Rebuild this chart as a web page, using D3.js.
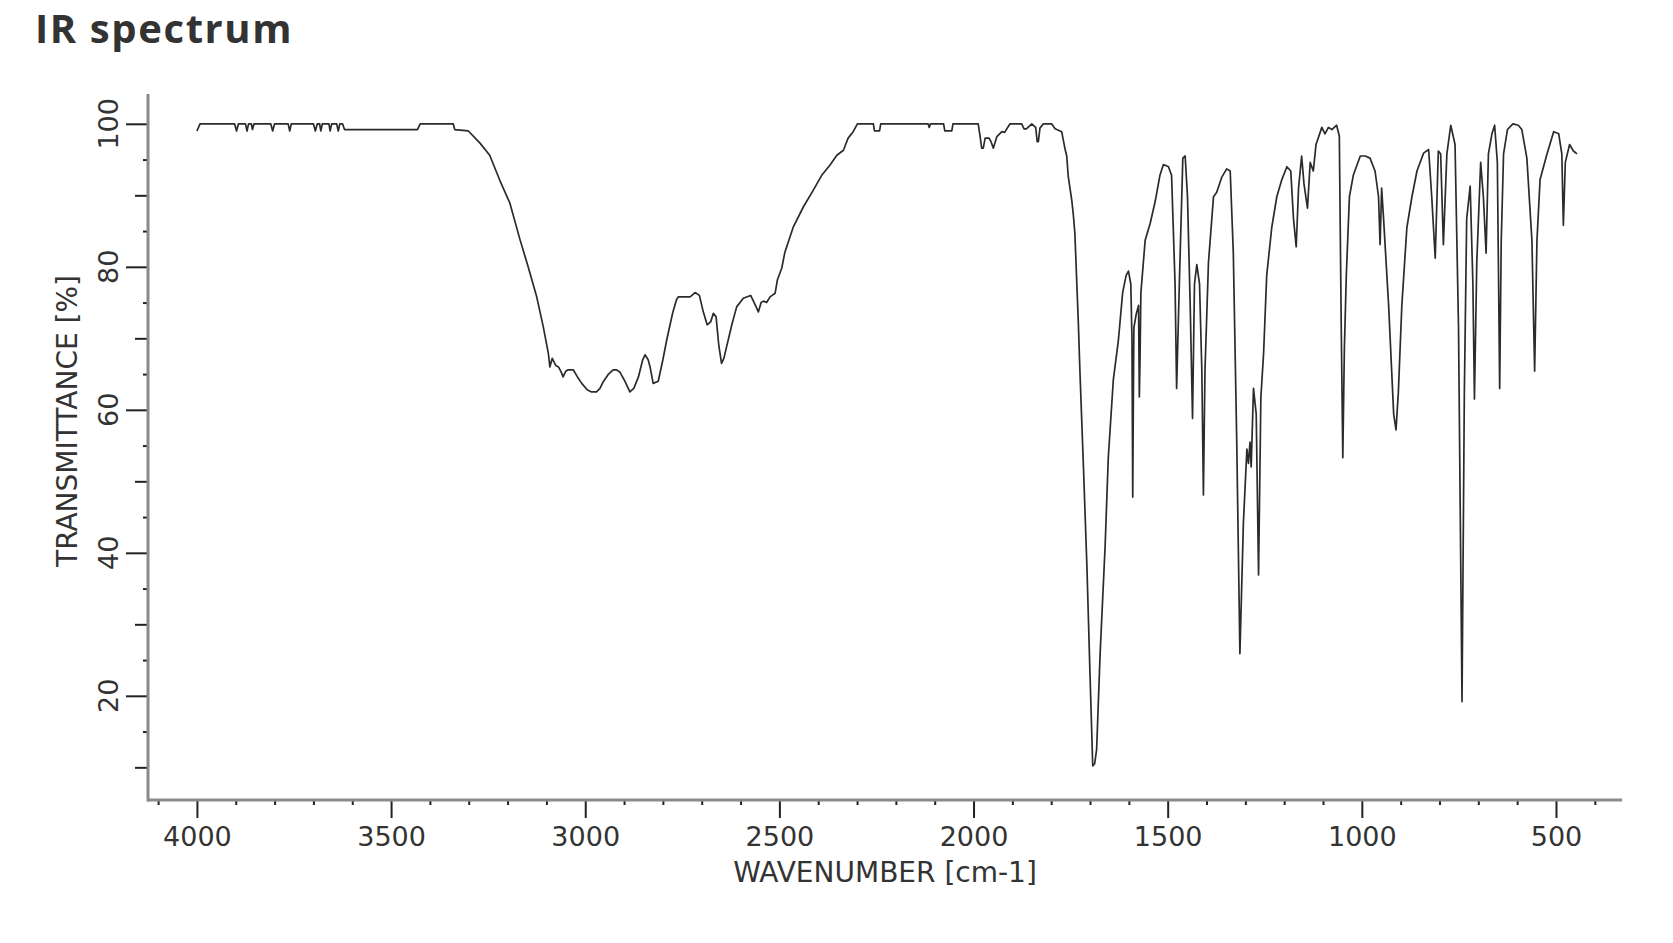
<!DOCTYPE html>
<html>
<head>
<meta charset="utf-8">
<script src="https://cdn.jsdelivr.net/npm/d3@7"></script>
<style>
  html, body { margin: 0; padding: 0; background: #fff; }
  svg { display: block; }
</style>
</head>
<body>
<svg id="chart" width="1673" height="943"></svg>
<script>
// ---- Data ----
const wavenumbers = [
  4000, 3992, 3903, 3898, 3893, 3875, 3871, 3867, 3860, 3857, 3853, 3810, 3805, 3800,
  3765, 3761, 3757, 3700, 3695, 3690, 3684, 3681, 3677, 3660, 3657, 3653, 3640, 3636,
  3632, 3625, 3620, 3432, 3425, 3340, 3336, 3301, 3271, 3246, 3220, 3194, 3168, 3147,
  3125, 3108, 3095, 3091, 3085, 3076, 3069, 3062, 3057, 3050, 3044, 3031, 3020, 3009,
  2995, 2984, 2971, 2962, 2954, 2940, 2928, 2920, 2911, 2898, 2885, 2875, 2863, 2852,
  2846, 2838, 2833, 2825, 2812, 2800, 2790, 2775, 2765, 2760, 2730, 2717, 2706, 2696,
  2686, 2677, 2670, 2663, 2656, 2649, 2643, 2636, 2622, 2610, 2593, 2574, 2565, 2554,
  2547, 2541, 2533, 2524, 2511, 2505, 2494, 2486, 2464, 2438, 2413, 2391, 2370, 2352,
  2335, 2323, 2310, 2299, 2258, 2255, 2242, 2239, 2117, 2114, 2111, 2077, 2074, 2056,
  2053, 1988, 1983, 1979, 1975, 1970, 1960, 1955, 1949, 1944, 1940, 1927, 1920, 1906,
  1876, 1870, 1864, 1850, 1840, 1836, 1833, 1829, 1820, 1799, 1790, 1773, 1764, 1760,
  1756, 1747, 1743, 1739, 1734, 1730, 1726, 1717, 1708, 1700, 1693, 1688, 1683, 1674,
  1661, 1653, 1640, 1627, 1616, 1607, 1601, 1595, 1592, 1590, 1588, 1587, 1581, 1575,
  1573, 1571, 1569, 1558, 1545, 1532, 1520, 1511, 1498, 1490, 1481, 1477, 1470, 1461,
  1455, 1449, 1442, 1436, 1431, 1425, 1418, 1412, 1408, 1404, 1395, 1382, 1374, 1361,
  1348, 1339, 1331, 1322, 1314, 1305, 1296, 1292, 1288, 1285, 1279, 1272, 1266, 1260,
  1253, 1245, 1232, 1219, 1206, 1193, 1183, 1176, 1169, 1163, 1155, 1149, 1140, 1133,
  1125, 1118, 1103, 1095, 1086, 1077, 1065, 1058, 1053, 1049, 1045, 1040, 1032, 1022,
  1004, 991, 979, 966, 957, 953, 949, 944, 931, 918, 912, 906, 897, 884,
  871, 858, 841, 828, 820, 811, 803, 797, 790, 781, 771, 760, 751, 742,
  736, 730, 721, 714, 710, 704, 694, 687, 680, 674, 665, 658, 651, 645,
  641, 635, 625, 611, 597, 588, 575, 562, 555, 549, 541, 523, 506, 493,
  485, 481, 476, 465, 455, 446
];
const transmittance = [
  99.0, 100, 100, 99.0, 100, 100, 99.0, 100, 100, 99.2, 100, 100, 99.0, 100,
  100, 99.0, 100, 100, 99.0, 100, 100, 99.0, 100, 100, 99.0, 100, 100, 99.0,
  100, 100, 99.2, 99.2, 100, 100, 99.2, 99.0, 97.3, 95.6, 92.1, 88.9, 83.8, 80.0,
  75.8, 71.6, 67.9, 66.0, 67.2, 66.2, 66.0, 65.3, 64.6, 65.4, 65.6, 65.6, 64.6, 63.7,
  62.8, 62.5, 62.5, 63.0, 63.9, 65.0, 65.6, 65.6, 65.3, 64.0, 62.5, 63.0, 64.6, 67.0,
  67.7, 67.0, 66.0, 63.7, 64.0, 67.0, 69.8, 73.5, 75.4, 75.8, 75.8, 76.4, 76.0, 73.7,
  71.9, 72.3, 73.5, 73.0, 69.0, 66.5, 67.2, 68.8, 72.0, 74.4, 75.6, 76.0, 75.0, 73.7,
  75.0, 75.2, 75.0, 75.8, 76.3, 78.2, 79.8, 82.0, 85.6, 88.4, 90.7, 92.8, 94.2, 95.6,
  96.3, 98.0, 98.9, 100, 100, 99.0, 99.0, 100, 100, 99.5, 100, 100, 99.0, 99.0,
  100, 100, 98.2, 96.6, 96.6, 98.0, 98.0, 97.5, 96.6, 97.5, 98.2, 98.9, 98.8, 100,
  100, 99.3, 99.3, 100, 99.5, 97.5, 97.5, 99.4, 100, 100, 99.3, 98.9, 96.4, 95.5,
  92.6, 89.3, 87.3, 84.7, 77.6, 72.0, 65.4, 52.1, 38.1, 22.9, 10.2, 10.5, 12.5, 25.9,
  41.1, 53.3, 64.2, 69.7, 76.4, 78.8, 79.4, 77.6, 70.0, 47.8, 65.0, 71.5, 73.4, 74.6,
  61.8, 68.0, 76.4, 83.7, 86.1, 89.2, 92.8, 94.3, 94.0, 92.8, 77.6, 63.0, 77.6, 95.2,
  95.5, 89.8, 74.6, 58.8, 77.6, 80.3, 77.6, 65.4, 48.1, 65.4, 80.6, 89.8, 90.4, 92.5,
  93.7, 93.4, 82.0, 55.0, 25.9, 44.2, 54.5, 52.5, 55.5, 52.0, 63.0, 59.4, 36.9, 61.8,
  67.9, 78.8, 85.5, 89.8, 92.2, 94.0, 93.4, 86.7, 82.8, 91.0, 95.5, 91.6, 88.2, 94.6,
  93.4, 97.1, 99.5, 98.6, 99.5, 99.2, 99.8, 98.3, 71.5, 53.3, 68.5, 78.8, 89.8, 92.8,
  95.5, 95.5, 95.2, 93.4, 89.8, 83.1, 91.0, 86.7, 74.6, 59.4, 57.2, 62.4, 74.6, 85.5,
  89.8, 93.4, 95.9, 96.4, 89.8, 81.2, 96.2, 95.8, 83.1, 95.8, 99.8, 97.1, 71.5, 19.2,
  62.4, 86.7, 91.3, 77.6, 61.5, 80.6, 94.6, 89.8, 81.9, 95.8, 98.6, 99.8, 94.6, 63.0,
  83.7, 95.8, 99.2, 100, 99.8, 99.2, 95.2, 83.7, 65.4, 83.7, 92.2, 95.8, 98.9, 98.6,
  95.8, 85.8, 94.6, 97.1, 96.2, 95.8
];
const xMajorTicks = [4000, 3500, 3000, 2500, 2000, 1500, 1000, 500];
const xMinorTicks = d3.range(4100, 399, -100).filter(v => v % 500 !== 0);
const yMajorTicks = [20, 40, 60, 80, 100];
const yMediumTicks = [10, 30, 50, 70, 90];
const yMinorTicks = [15, 25, 35, 45, 55, 65, 75, 85, 95];
const titleText = "IR spectrum";
const xLabel = "WAVENUMBER [cm-1]";
const yLabel = "TRANSMITTANCE [%]";

// ---- Layout ----
const svg = d3.select("#chart");
const plotLeft = 148, plotRight = 1622, plotTop = 94, plotBottom = 800;
const x = d3.scaleLinear().domain([4126, 330]).range([plotLeft, plotRight]);
const y = d3.scaleLinear().domain([5.43, 104.17]).range([plotBottom, plotTop]);

const data = wavenumbers.map((w, i) => ({ w, t: transmittance[i] }));

// Title
svg.append("text")
  .attr("x", 35).attr("y", 43)
  .attr("font-family", "'Open Sans', 'Noto Sans', sans-serif")
  .attr("font-weight", 700)
  .attr("font-size", 40)
  .attr("letter-spacing", 1.6)
  .attr("fill", "#333")
  .text(titleText);

const tickFont = "'DejaVu Sans', sans-serif";

// X axis ticks
const gxMinor = svg.append("g").attr("transform", `translate(0,${plotBottom})`)
  .call(d3.axisBottom(x).tickValues(xMinorTicks).tickSize(5).tickFormat(""));
const gxMajor = svg.append("g").attr("transform", `translate(0,${plotBottom})`)
  .call(d3.axisBottom(x).tickValues(xMajorTicks).tickSize(18).tickPadding(8).tickFormat(d3.format("d")));
[gxMinor, gxMajor].forEach(g => {
  g.select(".domain").remove();
  g.selectAll(".tick line").attr("stroke", "#222").attr("stroke-width", 2);
});
gxMajor.selectAll(".tick text")
  .attr("font-family", tickFont).attr("font-size", 27).attr("fill", "#333")
  .attr("dy", null).attr("y", 46);

// Y axis ticks
const gyMinor = svg.append("g").attr("transform", `translate(${plotLeft},0)`)
  .call(d3.axisLeft(y).tickValues(yMinorTicks).tickSize(5).tickFormat(""));
const gyMed = svg.append("g").attr("transform", `translate(${plotLeft},0)`)
  .call(d3.axisLeft(y).tickValues(yMediumTicks).tickSize(13).tickFormat(""));
const gyMajor = svg.append("g").attr("transform", `translate(${plotLeft},0)`)
  .call(d3.axisLeft(y).tickValues(yMajorTicks).tickSize(22).tickFormat(""));
[gyMinor, gyMed, gyMajor].forEach(g => {
  g.select(".domain").remove();
  g.selectAll(".tick line").attr("stroke", "#222").attr("stroke-width", 2);
});
svg.append("g").selectAll("text")
  .data(yMajorTicks)
  .join("text")
  .attr("transform", d => `translate(118,${y(d)}) rotate(-90)`)
  .attr("text-anchor", "middle")
  .attr("font-family", tickFont).attr("font-size", 27).attr("fill", "#333")
  .text(d => d);

// Axis lines
svg.append("line")
  .attr("x1", plotLeft).attr("x2", plotRight).attr("y1", plotBottom).attr("y2", plotBottom)
  .attr("stroke", "#8a8a8a").attr("stroke-width", 3);
svg.append("line")
  .attr("x1", plotLeft).attr("x2", plotLeft).attr("y1", plotTop).attr("y2", plotBottom + 1.5)
  .attr("stroke", "#8a8a8a").attr("stroke-width", 3);

// Axis titles
svg.append("text")
  .attr("x", (plotLeft + plotRight) / 2).attr("y", 882)
  .attr("text-anchor", "middle")
  .attr("font-family", tickFont).attr("font-size", 28).attr("fill", "#333")
  .text(xLabel);
svg.append("text")
  .attr("transform", `translate(77,421) rotate(-90)`)
  .attr("text-anchor", "middle")
  .attr("font-family", tickFont).attr("font-size", 28).attr("fill", "#333")
  .text(yLabel);

// Spectrum line
const line = d3.line().x(d => x(d.w)).y(d => y(d.t));
svg.append("path")
  .datum(data)
  .attr("d", line)
  .attr("fill", "none")
  .attr("stroke", "#2b2b2b")
  .attr("stroke-width", 1.7)
  .attr("stroke-linejoin", "round");
</script>
</body>
</html>
